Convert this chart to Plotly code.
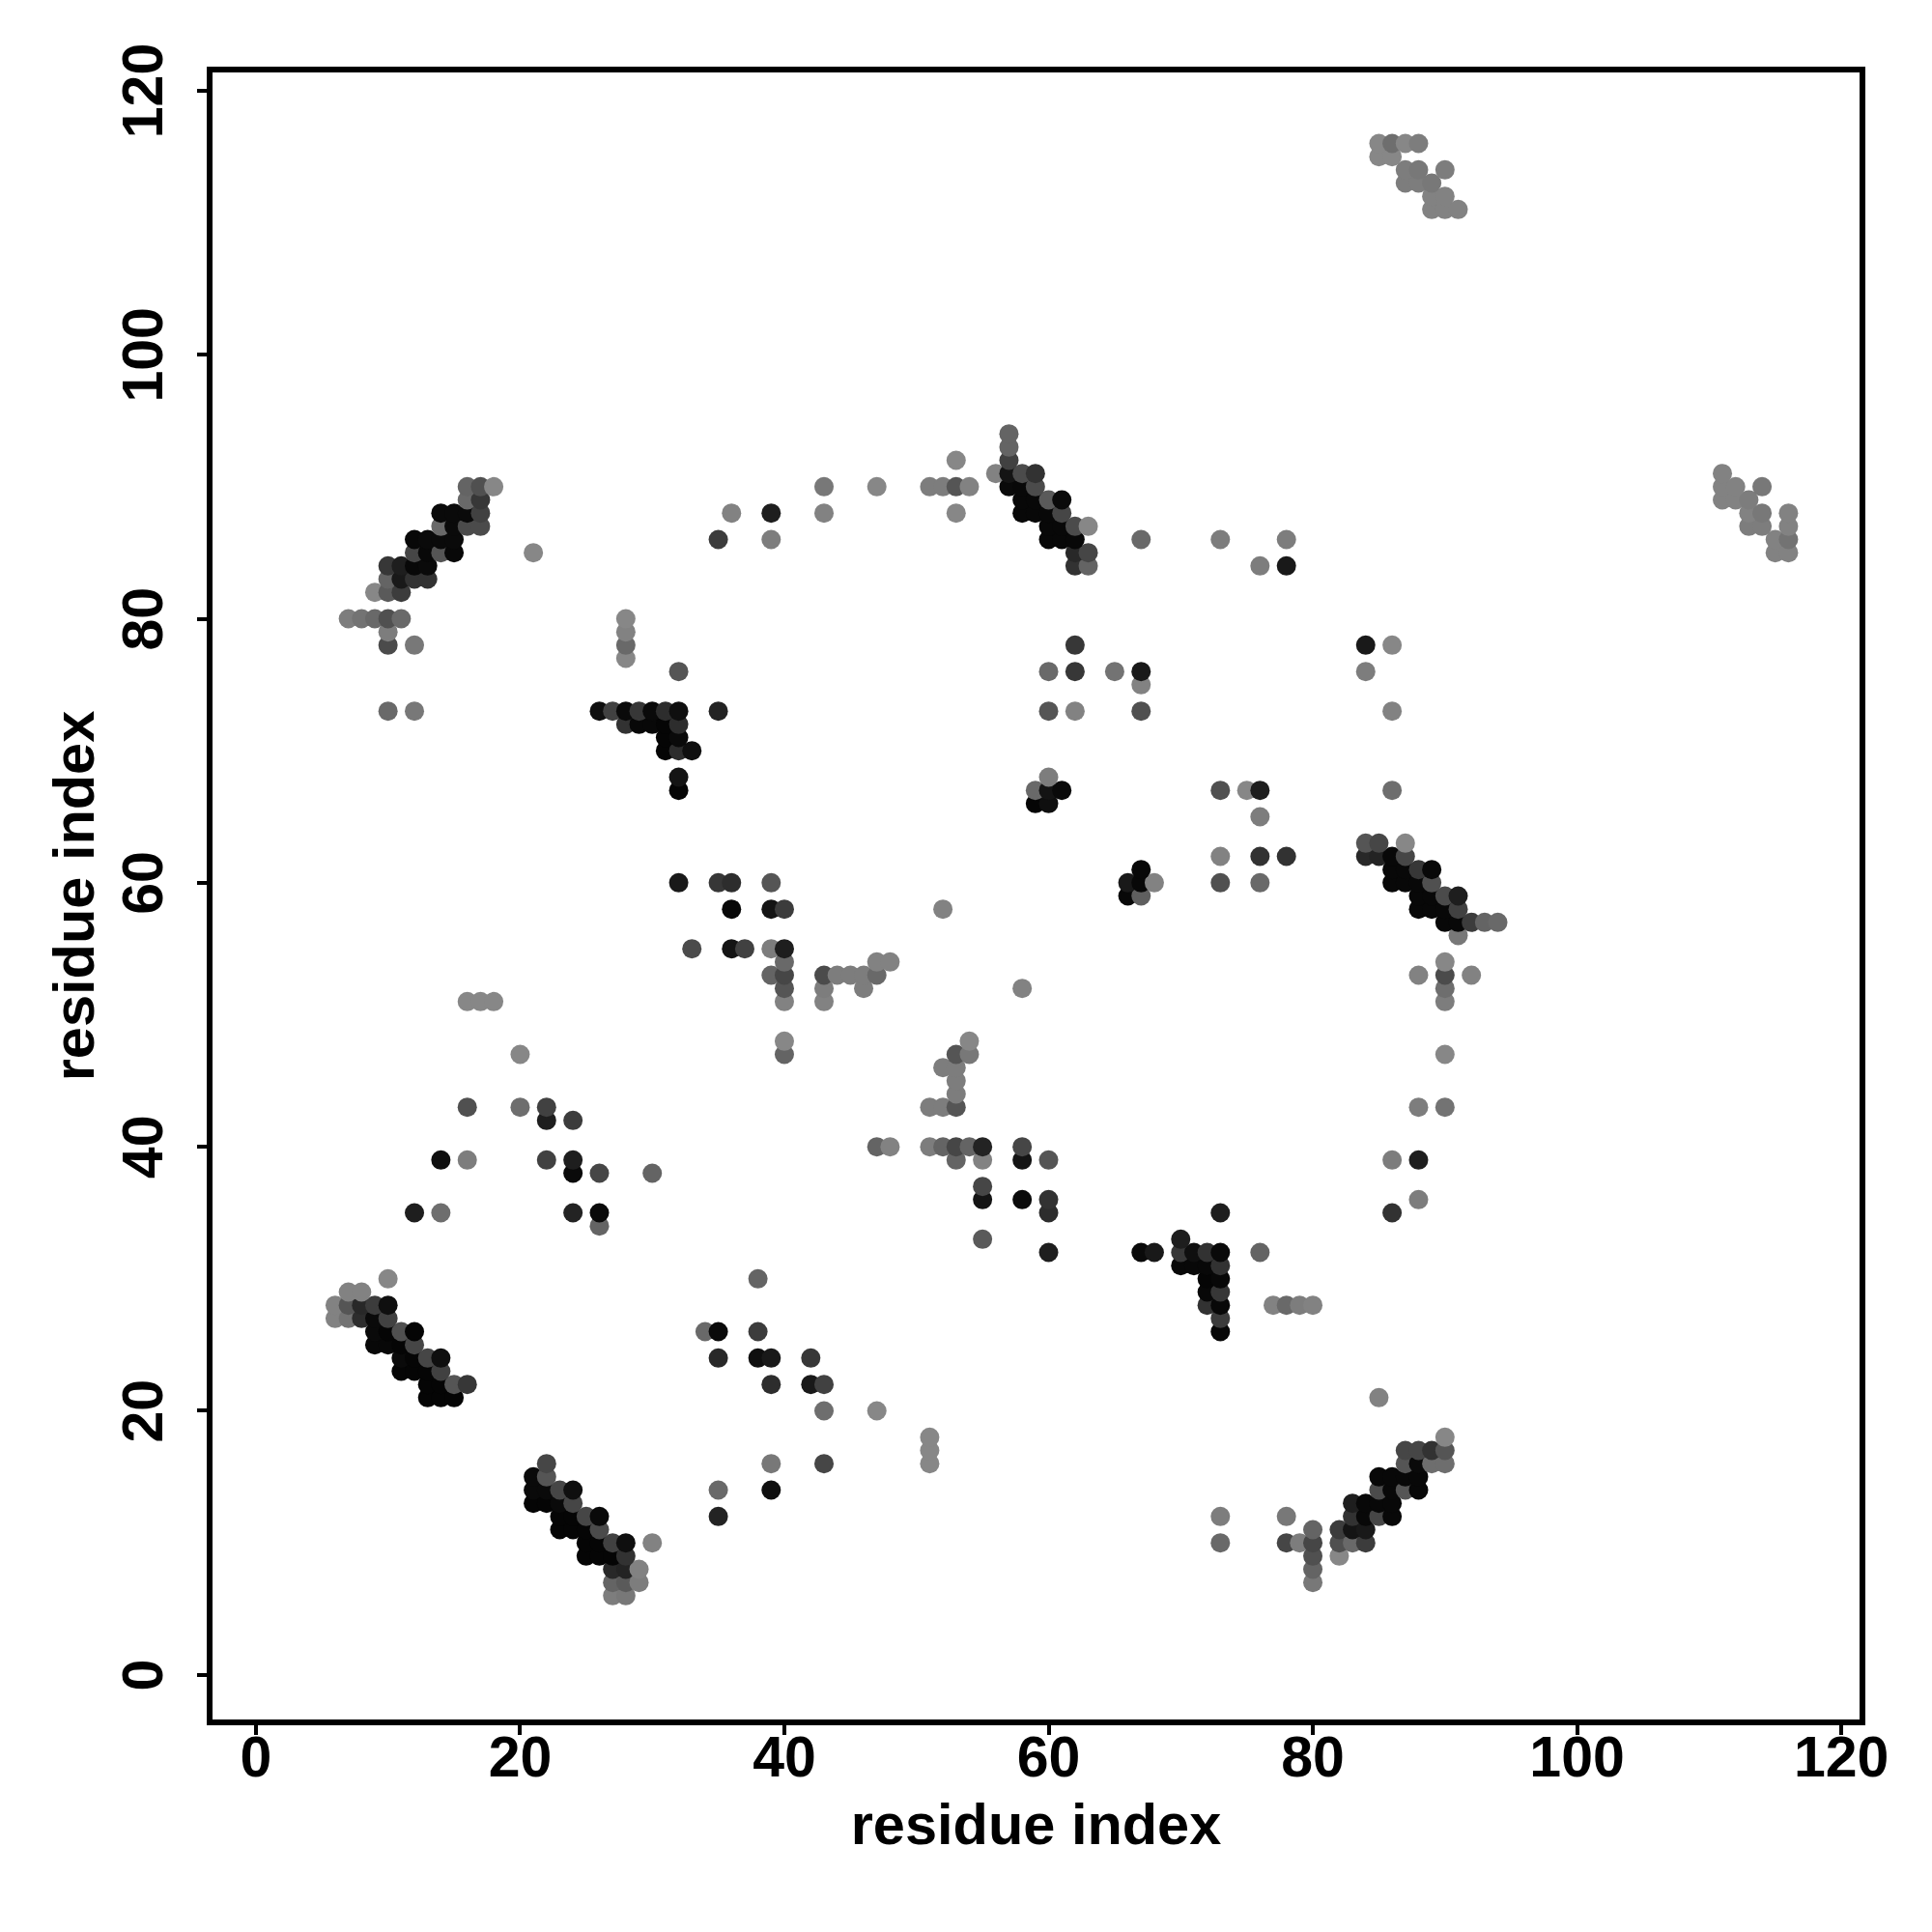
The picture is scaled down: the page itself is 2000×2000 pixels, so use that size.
import plotly.graph_objects as go

row_y = [116,115,114,113,112,111,94,93,92,91,90,89,88,87,86,85,84,83,82,80,79,78,77,76,75,73,72,71,70,68,67,66,65,63,62,61,60,59,58,57,56,55,54,53,52,51,48,47,46,45,44,43,42,40,39,38,37,36,35,34,33,32,31,30,29,28,27,26,25,24,23,22,21,20,18,17,16,15,14,13,12,11,10,9,8,7,6]

row_x = [
 [85,86,87,88],[85,86],[87,88,90],[87,88,89],[89,90],[89,90,91],
 [57],[57],[53,57],[56,57,58,59,111],
 [16,17,18,43,47,51,52,53,54,57,58,59,111,112,114],
 [16,17,58,59,60,61,111,112,113],
 [14,15,16,17,36,39,43,53,58,59,60,61,113,114,116],
 [14,15,16,17,60,61,62,63,113,114,116],
 [12,13,14,15,35,39,60,61,62,67,73,78,115,116],
 [12,13,14,15,21,62,63,115,116],
 [10,11,12,13,62,63,76,78],
 [10,11,12,13],[9,10,11],[7,8,9,10,11,28],[10,28],
 [10,12,28,62,84,86],[28],[32,60,62,65,67,84],[67],
 [10,12,26,27,28,29,30,31,32,35,60,62,67,86],
 [28,29,30,31,32],[31,32],[31,32,33],[32,60],
 [32,59,60,61,73,75,76,86],[59,60],[76],[84,85,87],
 [73,76,78,84,85,86,87],[67,86,87,88,89],
 [32,35,36,39,66,67,68,73,76,86,87,88,89],
 [66,67,88,89,90,91],[36,39,40,52,88,89,90,91],
 [90,91,92,93,94],[91],[33,36,37,39,40],[40,47,48,90],
 [39,40,43,44,45,46,47,88,90,92],[40,43,46,58,90],
 [16,17,18,40,43,90],[40,54],[20,40,53,54,90],[52,53],[53],[53],
 [16,20,22,51,52,53,88,90],[22,24],
 [47,48,51,52,53,54,55,58],
 [14,16,22,24,53,55,58,60,86,88],
 [24,26,30],[55],[55,58,60,88],[12,14,24,26,60,73,86],[26],[55,70],
 [60,67,68,70,71,72,73,76],[70,71,72,73],[10,38,72,73],[7,8,72,73],
 [6,7,8,9,10,72,73,77,78,79,80],[6,7,8,9,10,73],
 [9,10,11,12,34,35,38,73],[9,10,11,12],
 [11,12,13,14,35,38,39,42],[11,12,13,14],
 [13,14,15,16,39,42,43],[13,14,15,85],[43,47],[51,90],
 [51,87,88,89,90],[22,39,43,51,87,88,89,90],
 [21,22,85,86,87,88],[21,22,23,24,35,39,85,86,87,88],
 [21,22,23,24,83,84,85,86],[23,24,25,26,35,73,78,83,84,85,86],
 [23,24,25,26,80,82,83,84],[25,26,27,28,30,73,78,79,80,82,83,84],
 [25,26,27,28,80,82],[27,28,29,80],[27,28,29,80],[27,28],
]

row_gray = [
 [135,110,135,125],[135,135],[125,120,125],[125,125,120],[130,130],[130,130,130],
 [100],[100],[135,65],[130,20,75,50,130],
 [100,80,135,120,135,125,125,85,130,10,8,75,130,130,120],
 [105,55,8,8,90,10,130,130,125],
 [10,10,10,65,130,30,130,135,8,8,8,70,130,120,130],
 [105,10,75,75,8,8,75,135,125,125,130],
 [8,10,10,10,60,125,8,8,8,105,125,125,130,115],
 [70,8,85,8,135,40,70,130,130],
 [55,30,8,10,50,100,125,25],
 [100,25,50,50],[135,90,60],[125,115,105,80,105,135],[125,130],
 [75,120,105,55,25,135],[135],[85,105,55,115,25,125],[130],
 [105,120,15,65,10,55,10,45,15,35,85,130,80,130],
 [50,8,8,5,45],[5,10],[5,45,15],[20,125],
 [5,105,20,10,80,135,30,110],[5,15],[125],[85,70,135],
 [130,50,50,40,35,8,70],[8,8,8,55,8],
 [25,55,45,85,25,8,130,80,105,8,8,8,80],
 [8,95,8,8,75,30],[8,20,60,130,8,8,8,65],
 [8,8,60,100,105],[120],[75,20,65,125,30],[105,130,130,135],
 [100,70,75,125,125,125,105,130,75,130],[85,125,125,130,110],
 [135,135,135,130,130,125],[135,135],[135,100,85,120,135],[125,125],[125],[125],
 [80,110,65,125,125,85,125,115],[30,60],
 [100,130,125,100,70,100,35,70],
 [15,125,65,30,100,130,20,85,125,30],
 [10,70,100],[70],[20,10,50,125],[30,110,35,10,45,30,50],[100],[90,30],
 [30,10,25,55,15,50,10,100],[8,8,8,50],[135,100,5,8],[130,130,8,55],
 [130,85,40,60,15,50,8,130,105,125,130],[130,115,45,10,65,60],
 [10,5,80,5,105,10,60,8],[8,8,5,70],
 [10,5,70,15,40,15,25,55],[5,5,5,65],
 [5,5,85,55,45,25,65],[5,5,5,130],[110,135],[135,135],
 [135,70,70,50,85],[70,120,70,135,85,10,110,110],
 [10,85,8,8,8,8],[10,10,70,15,105,15,75,8,85,8],
 [5,5,10,70,30,8,8,8],[5,5,70,10,35,125,120,50,8,70,8],
 [5,5,5,75,100,60,20,25],[5,5,65,15,130,105,70,125,70,80,105,60],
 [5,5,5,50,80,135],[40,35,130,100],[100,90,125,120],[125,120],
]

tick_values = [0, 20, 40, 60, 80, 100, 120]
axis_label = "residue index"

xs, ys, colors = [], [], []
for y, row, grays in sorted(zip(row_y, row_x, row_gray), key=lambda r: r[0]):
    for x, g in zip(row, grays):
        xs.append(x)
        ys.append(y)
        colors.append(f"rgb({g},{g},{g})")

fig = go.Figure(go.Scatter(x=xs, y=ys, mode="markers",
                           marker=dict(size=20, color=colors, line=dict(width=0))))

tick_font = dict(family="Liberation Sans", size=59, color="black", weight="bold")
title_font = dict(family="Liberation Sans", size=59.5, color="black", weight="bold")
axis_style = dict(
    tickmode="array", tickvals=tick_values,
    ticks="outside", ticklen=10, tickwidth=4, tickcolor="black",
    showline=True, linewidth=6, linecolor="black", mirror=True,
    showgrid=False, zeroline=False, tickfont=tick_font,
)
fig.update_xaxes(range=[-3.283, 121.38], ticklabelstandoff=-28,
                 title=dict(text=axis_label, standoff=19, font=title_font),
                 **axis_style)
fig.update_yaxes(range=[-3.38, 121.38], tickangle=-90,
                 ticklabelstandoff=12, ticklabelshift=9,
                 title=dict(text=axis_label, standoff=1, font=title_font),
                 **axis_style)
fig.update_layout(width=2000, height=2000, autosize=False, showlegend=False,
                  paper_bgcolor="white", plot_bgcolor="white",
                  margin=dict(l=220, r=75, t=75, b=220, autoexpand=False))

fig.write_html("out.html", config=dict(displayModeBar=False),
               post_script="document.body.style.margin='0';")
